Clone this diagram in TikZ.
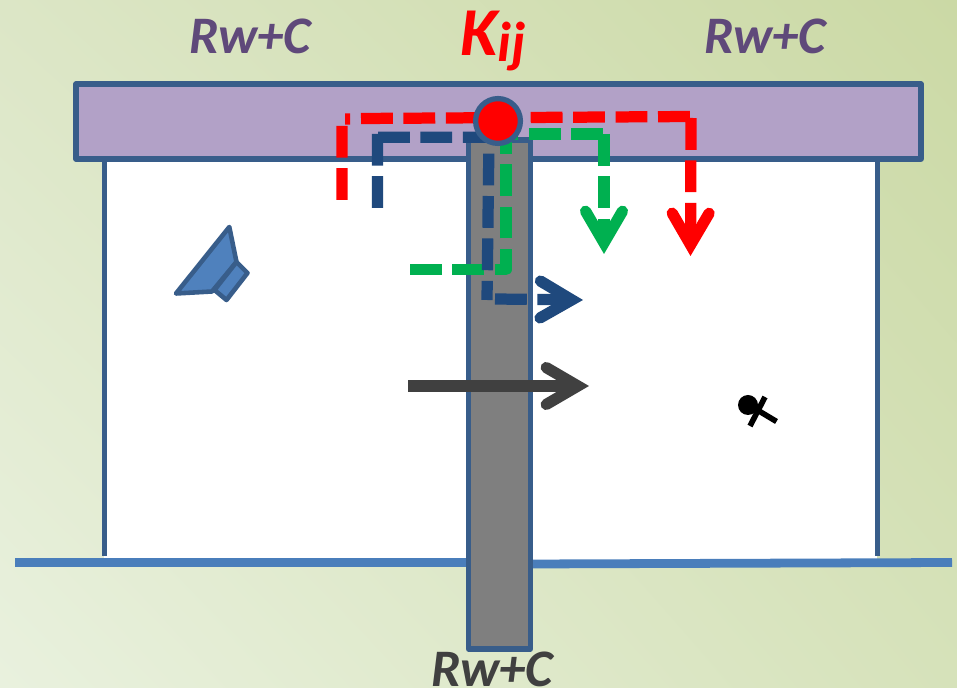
\documentclass[tikz,border=0pt]{standalone}
\usepackage{fontspec}
\setmainfont{Carlito}
\usetikzlibrary{arrows.meta,shadings}
\definecolor{wallblue}{HTML}{385D8A}
\definecolor{groundblue}{HTML}{4A7EBB}
\definecolor{speakerblue}{HTML}{4F81BD}
\definecolor{ceilpurple}{HTML}{B2A1C7}
\definecolor{labelpurple}{HTML}{5F497A}
\definecolor{pathnavy}{HTML}{1F497D}
\definecolor{pathgreen}{HTML}{00B050}
\definecolor{darklabel}{HTML}{404040}
\definecolor{wallgray}{HTML}{7F7F7F}
\definecolor{bglowleft}{HTML}{E9F1DE}
\definecolor{bgupleft}{HTML}{DCE6C6}
\definecolor{bgupright}{HTML}{CBD9A5}
\definecolor{bglowright}{HTML}{D6E2BA}

\begin{document}
\begin{tikzpicture}[
    x=0.02cm, y=-0.02cm,
    every node/.style={font=\fontsize{30}{30}\selectfont\bfseries\itshape, anchor=base},
    rlabel/.style={color=labelpurple},
    wallline/.style={draw=wallblue, line width=2.9pt, line join=round},
    groundline/.style={groundblue, line width=5pt},
    openhead/.style={-{Straight Barb[length=18pt, width=21pt, line width=6.4pt, line cap=round, line join=miter]}},
    soundpath/.style={openhead, line width=6.4pt, dash pattern=on 18.1pt off 6.05pt, line join=round},
]
\useasboundingbox (0,0) rectangle (957,688);

% ── Background ──────────────────────────────────────────────────
\shade[lower left=bglowleft, upper left=bgupleft, upper right=bgupright, lower right=bglowright]
  (0,0) rectangle (957,688);

% ── Rooms ───────────────────────────────────────────────────────
\fill[white] (104,159) rectangle (877,562);
\draw[wallline] (104.5,159) -- (104.5,556);
\draw[wallline] (877.5,159) -- (877.5,556);
\draw[wallline, fill=ceilpurple] (76,84) rectangle (921,159);
\draw[groundline] (15,562.3) -- (468,562.3);
\draw[groundline] (530,564) -- (952,562.5);

% ── Partition wall ──────────────────────────────────────────────
\draw[wallline, fill=wallgray] (468.5,140) rectangle (530.5,649);

% ── Labels ──────────────────────────────────────────────────────
\node[rlabel] (leftlabel) at (250,54) {Rw+C};
\node[rlabel] (rightlabel) at (765,54) {Rw+C};
\node[color=darklabel] (walllabel) at (492,687) {Rw+C};
\node[color=red, font=\fontsize{39}{39}\selectfont\bfseries\itshape] (kij) at (493,56)
  {K\raisebox{-3pt}{\fontsize{32}{32}\selectfont ij}};

% ── Speaker and listener ────────────────────────────────────────
\draw[wallline, line width=2.6pt, fill=speakerblue]
  (229.3,227) -- (176,293.5) -- (212,291.5) -- (236.5,262) -- cycle;
\draw[wallline, line width=2.6pt, fill=speakerblue]
  (236.5,262) -- (247.5,273) -- (226.5,300) -- (214.5,290) -- cycle;
\fill (748,405) circle (10);
\draw[line width=3.2pt] (765,397) -- (750,426);
\draw[line width=3.2pt] (759,411) -- (776.5,421.5);

% ── Flanking paths ──────────────────────────────────────────────
\coordinate (redstart) at (342,200);
\coordinate (redup) at (342,125);
\coordinate (redstub) at (345,119);
\coordinate (redstubend) at (350,119);
\coordinate (redtop) at (361,118.5);
\coordinate (redcorner) at (692,116.5);
\coordinate (reddown) at (691,118);
\coordinate (redtip) at (690.5,256);
\draw[soundpath, red] (redstart) -- (redup) (redstub) -- (redstubend)
  (redtop) -- (redcorner) (reddown) -- (redtip);

\coordinate (greenstart) at (410,269.7);
\coordinate (greenbend) at (506,269.7);
\coordinate (greentop) at (506,134);
\coordinate (greencorner) at (604,134);
\coordinate (greendown) at (604,134);
\coordinate (greentip) at (604,254);
\draw[soundpath, pathgreen] (greenstart) -- (greenbend) -- (greentop) -- (greencorner)
  (greendown) -- (greentip);

\coordinate (navystart) at (377.5,208);
\coordinate (navyup) at (377.5,134);
\coordinate (navytop) at (378,137.3);
\coordinate (navybend) at (489,137.3);
\coordinate (navylow) at (487,300);
\coordinate (navyright) at (495,299);
\coordinate (navytip) at (583,300);
\draw[soundpath, pathnavy] (navystart) -- (navyup) (navytop) -- (navybend) -- (navylow)
  (navyright) -- (navytip);

% ── Direct path ─────────────────────────────────────────────────
\coordinate (directstart) at (408,386);
\coordinate (directtip) at (589,386);
\draw[openhead, line width=6.4pt, darklabel] (directstart) -- (directtip);

% ── Junction ────────────────────────────────────────────────────
\node[circle, anchor=center, fill=red, draw=wallblue, line width=3pt, minimum size=25.5pt, inner sep=0pt] (junction) at (498,121) {};

\end{tikzpicture}
\end{document}
